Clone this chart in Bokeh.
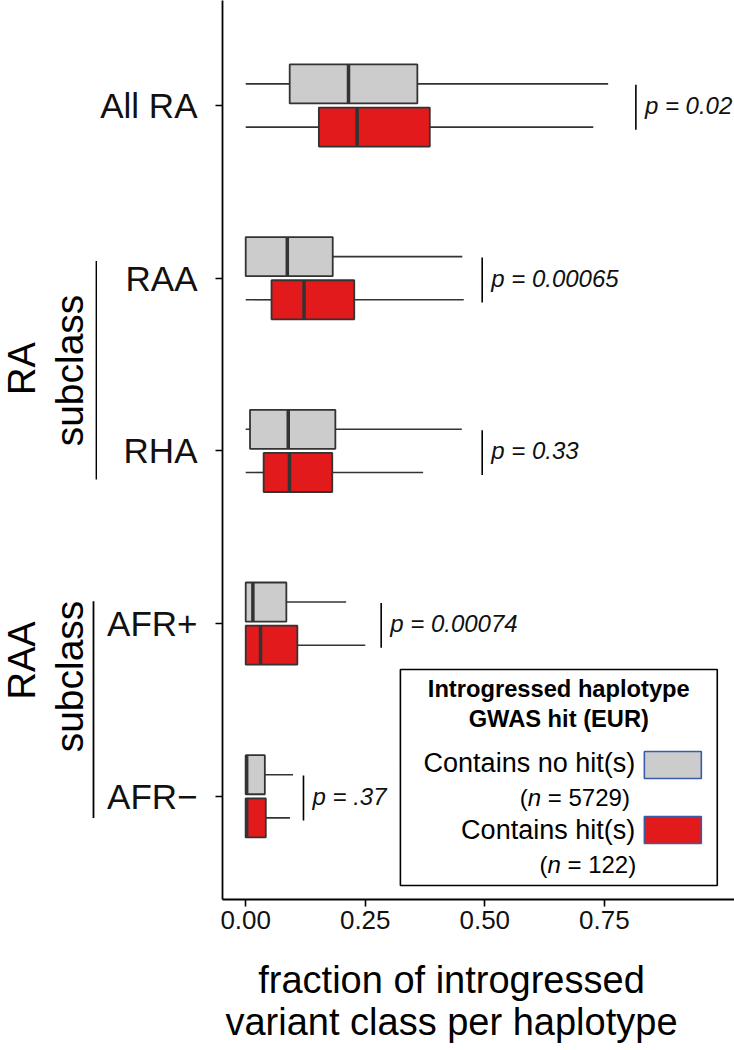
import math
from bokeh.plotting import figure
from bokeh.layouts import row, column
from bokeh.models import Range1d, FixedTicker, Label, NumeralTickFormatter
from bokeh.core.properties import value
from bokeh.embed import file_html
from bokeh.resources import INLINE

# ---------------- data ----------------
categories = ["All RA", "RAA", "RHA", "AFR+", "AFR\u2212"]
# haplotypes that contain no GWAS hit (grey)
nohit_low = [0.0, 0.0, 0.0, 0.0, 0.0]
nohit_q1 = [0.092, 0.0, 0.009, 0.0, 0.0]
nohit_med = [0.215, 0.087, 0.089, 0.015, 0.002]
nohit_q3 = [0.359, 0.182, 0.1875, 0.085, 0.040]
nohit_high = [0.758, 0.453, 0.452, 0.210, 0.099]
# haplotypes that contain GWAS hit(s) (red)
hit_low = [0.0, 0.0, 0.0, 0.0, 0.0]
hit_q1 = [0.153, 0.054, 0.0375, 0.0, 0.0]
hit_med = [0.233, 0.122, 0.0915, 0.031, 0.002]
hit_q3 = [0.385, 0.227, 0.181, 0.108, 0.042]
hit_high = [0.727, 0.456, 0.371, 0.250, 0.0925]
p_values = ["p = 0.02", "p = 0.00065", "p = 0.33", "p = 0.00074", "p = .37"]
x_ticks = [0.0, 0.25, 0.5, 0.75]
legend_labels = ["Contains no hit(s)", "Contains hit(s)"]
legend_n = ["5729", "122"]
legend_title = ["Introgressed haplotype", "GWAS hit (EUR)"]
group_names = [("RA", "subclass"), ("RAA", "subclass")]
x_title = ["fraction of introgressed", "variant class per haplotype"]

# ---------------- layout helpers (page pixel -> data) ----------------
X0_PX, X_PER = 243.3, 480.0
Y1_PX, Y_PER = 105.0, 172.7
def px2x(px):
    return (px - X0_PX) / X_PER
def py2y(py):
    return 1 + (py - Y1_PX) / Y_PER

GREY = "#CCCCCC"
RED = "#E31A1C"
EDGE = "#333333"
FONT = "Liberation Sans"

LEFT_W = 97
MAIN_H = 945
FRAME_BOTTOM = 899
TOTAL_W, TOTAL_H = 734, 1050

def blank(fig):
    fig.outline_line_color = None
    fig.background_fill_color = "white"
    fig.border_fill_color = "white"

# ---------------- main plot ----------------
p = figure(width=TOTAL_W - LEFT_W, height=MAIN_H, output_backend="svg", toolbar_location=None,
           x_range=Range1d(px2x(220), px2x(734)),
           y_range=Range1d(py2y(FRAME_BOTTOM), py2y(0)),
           min_border_left=220 - LEFT_W, min_border_right=0, min_border_top=0,
           min_border_bottom=MAIN_H - FRAME_BOTTOM)
p.outline_line_color = None
p.xgrid.visible = False
p.ygrid.visible = False
p.background_fill_color = "white"
p.border_fill_color = "white"

ys = list(range(1, len(categories) + 1))
OFF = 0.125
BH = 0.226

def draw_boxes(lo, q1, med, q3, hi, color, dy):
    y = [v + dy for v in ys]
    p.segment(x0=lo, y0=y, x1=q1, y1=y, line_color=EDGE, line_width=1.6)
    p.segment(x0=q3, y0=y, x1=hi, y1=y, line_color=EDGE, line_width=1.6)
    p.hbar(y=y, left=q1, right=q3, height=BH, fill_color=color,
           line_color=EDGE, line_width=1.8)
    p.segment(x0=med, y0=[v - BH / 2 for v in y], x1=med, y1=[v + BH / 2 for v in y],
              line_color=EDGE, line_width=3.5)

draw_boxes(nohit_low, nohit_q1, nohit_med, nohit_q3, nohit_high, GREY, -OFF)
draw_boxes(hit_low, hit_q1, hit_med, hit_q3, hit_high, RED, OFF)

# significance brackets + p-values
bracket_px = [635.0, 480.7, 480.7, 379.3, 301.3]
bx = [px2x(v) for v in bracket_px]
p.segment(x0=bx, y0=[v - 0.12 for v in ys], x1=bx, y1=[v + 0.14 for v in ys],
          line_color="black", line_width=1.6)
for xv, yv, t in zip(bx, ys, p_values):
    p.add_layout(Label(x=xv, y=yv, x_offset=9, text=t, text_font=FONT,
                       text_font_style="italic", text_font_size="24px",
                       text_baseline="middle", text_align="left", text_color="#111111"))

# axes
p.xaxis.ticker = FixedTicker(ticks=x_ticks)
p.xaxis.formatter = NumeralTickFormatter(format="0.00")
p.yaxis.ticker = FixedTicker(ticks=ys)
p.yaxis.major_label_overrides = {i: c for i, c in zip(ys, categories)}
for ax in (p.xaxis[0], p.yaxis[0]):
    ax.axis_line_color = "black"
    ax.axis_line_width = 1.8
    ax.major_tick_line_color = "black"
    ax.major_tick_line_width = 1.6
    ax.major_tick_out = 7
    ax.major_tick_in = 0
    ax.minor_tick_line_color = None
    ax.major_label_text_font = FONT
    ax.major_label_text_color = "#111111"
p.xaxis.major_label_text_font_size = "26px"
p.xaxis.major_label_standoff = 4
p.yaxis.major_label_text_font_size = "35px"
p.yaxis.major_label_standoff = 18

# legend box
p.quad(left=[px2x(398.6)], right=[px2x(716.7)], top=[py2y(669)], bottom=[py2y(885)],
       fill_color="white", line_color="black", line_width=1.6)
for t, py in zip(legend_title, [688, 718]):
    p.add_layout(Label(x=px2x(557.6), y=py2y(py), text=t, text_font=FONT,
                       text_font_style="bold", text_font_size="23.7px",
                       text_align="center", text_baseline="middle", text_color="black"))
swatch_rows = [(762, 797, 518.5, 764.5), (829, 864, 538.2, 829.5)]
for (lab, n, color, (ly, ny, nx, sy)) in zip(legend_labels, legend_n, [GREY, RED], swatch_rows):
    p.add_layout(Label(x=px2x(634.3), y=py2y(ly), text=lab, text_font=FONT,
                       text_font_size="27px", text_align="right",
                       text_baseline="middle", text_color="black"))
    p.add_layout(Label(x=px2x(nx), y=py2y(ny), text="(", text_font=FONT,
                       text_font_size="24px", text_align="left",
                       text_baseline="middle", text_color="black"))
    p.add_layout(Label(x=px2x(nx), y=py2y(ny), x_offset=8, text="n", text_font=FONT,
                       text_font_style="italic", text_font_size="24px", text_align="left",
                       text_baseline="middle", text_color="black"))
    p.add_layout(Label(x=px2x(nx), y=py2y(ny), x_offset=28, text="= " + n + ")",
                       text_font=FONT, text_font_size="24px", text_align="left",
                       text_baseline="middle", text_color="black"))
    p.quad(left=[px2x(643.5)], right=[px2x(700.7)], top=[py2y(sy - 13.5)],
           bottom=[py2y(sy + 13.5)], fill_color=color, line_color="#3A5BA8",
           line_width=1.6)

# ---------------- left strip: group annotations ----------------
# (its frame is aligned with the main plot frame inside the row)
left = figure(width=LEFT_W, height=MAIN_H, output_backend="svg", toolbar_location=None,
              x_range=Range1d(0, LEFT_W), y_range=Range1d(py2y(FRAME_BOTTOM), py2y(0)),
              x_axis_location=None, y_axis_location=None, min_border=0)
left.xgrid.visible = False
left.ygrid.visible = False
blank(left)
groups = [dict(line_x=96, first=2, last=3, above=0.10, below=0.165, big_y=368, small_y=370),
          dict(line_x=93, first=4, last=5, above=0.13, below=0.125, big_y=660, small_y=676)]
for g, (big, small) in zip(groups, group_names):
    left.segment(x0=[g["line_x"]], x1=[g["line_x"]], y0=[g["first"] - g["above"]],
                 y1=[g["last"] + g["below"]], line_color="black", line_width=1.8)
    left.text(x=[21.5], y=[py2y(g["big_y"])], text=[big], angle=math.pi / 2,
              text_font=value(FONT), text_font_size=value("38px"),
              text_align=value("center"), text_baseline=value("middle"), text_color="black")
    left.text(x=[68.5], y=[py2y(g["small_y"])], text=[small], angle=math.pi / 2,
              text_font=value(FONT), text_font_size=value("39px"),
              text_align=value("center"), text_baseline=value("middle"), text_color="black")

# ---------------- bottom strip: x-axis title ----------------
BOT_H = TOTAL_H - MAIN_H
bottom = figure(width=TOTAL_W, height=BOT_H, output_backend="svg", toolbar_location=None,
                x_range=Range1d(0, TOTAL_W), y_range=Range1d(TOTAL_H, MAIN_H),
                x_axis_location=None, y_axis_location=None, min_border=0)
bottom.xgrid.visible = False
bottom.ygrid.visible = False
blank(bottom)
bottom.text(x=[451, 451], y=[979, 1021], text=x_title,
            text_font=value(FONT), text_font_size=value("38px"),
            text_align=value("center"), text_baseline=value("middle"), text_color="black")

layout = column(row(left, p), bottom)
open("out.html", "w").write(file_html(layout, INLINE))
